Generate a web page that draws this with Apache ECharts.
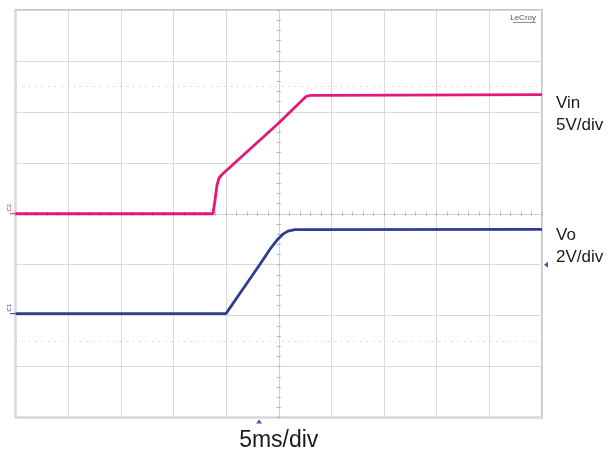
<!DOCTYPE html>
<html><head><meta charset="utf-8">
<script src="https://cdn.jsdelivr.net/npm/echarts@6/dist/echarts.min.js"></script>
<style>html,body{margin:0;padding:0;background:#fff}#c{width:610px;height:456px}</style>
</head><body><div id="c"></div>
<script>
// time in ms (5 ms/div, 10 divisions, centre = 0)
const vinTime  = [-25, -6.24, -6.05, -5.86, -5.67, -5.39, 0.0, 2.59, 2.97, 11.5, 25];
const vinVolts = [0, 0, 1.35, 2.82, 3.51, 3.85, 8.9, 11.51, 11.61, 11.65, 11.7];
const voTime   = [-25, -5.01, -3.68, -1.78, -0.83, -0.07, 0.40, 0.87, 1.54, 25];
const voVolts  = [0, 0, 0.80, 1.94, 2.53, 2.93, 3.12, 3.24, 3.30, 3.31];
const vinPerDiv = 5, vinOffsetDiv = 0;
const voPerDiv = 2, voOffsetDiv = -1.96;
const channelLabels = ['Vin', '5V/div', 'Vo', '2V/div'];
const timeLabel = '5ms/div';

const toDiv = (t, v, per, off) => t.map((x, i) => [x, v[i] / per + off]);
const vinData = toDiv(vinTime, vinVolts, vinPerDiv, vinOffsetDiv);
const voData = toDiv(voTime, voVolts, voPerDiv, voOffsetDiv);

const gridCol = '#dadada';
const centerAxis = (inside, which) => ({
  type: 'value', min: which === 'x' ? -25 : -4, max: which === 'x' ? 25 : 4,
  interval: which === 'x' ? 5 : 1,
  axisLine: { show: true, onZero: true, lineStyle: { color: '#d0d0d0', width: 1 } },
  axisTick: { show: true, inside: inside, length: 2, lineStyle: { color: '#b0b0b0' } },
  minorTick: { show: true, splitNumber: 5, length: 2, lineStyle: { color: '#b0b0b0' } },
  axisLabel: { show: false }, splitLine: { show: false }
});

const chart = echarts.init(document.getElementById('c'));
chart.setOption({
  animation: false,
  grid: { left: 15.5, right: 68, top: 10, bottom: 38.5, show: true, borderColor: '#c4c4c4', borderWidth: 2 },
  xAxis: [
    { type: 'value', min: -25, max: 25, interval: 5, axisLine: { show: false }, axisTick: { show: false },
      axisLabel: { show: false }, splitLine: { show: true, lineStyle: { color: gridCol, width: 1 } } },
    Object.assign(centerAxis(true, 'x'), { position: 'bottom' }),
    Object.assign(centerAxis(false, 'x'), { position: 'bottom' })
  ],
  yAxis: [
    { type: 'value', min: -4, max: 4, interval: 1, axisLine: { show: false }, axisTick: { show: false },
      axisLabel: { show: false }, splitLine: { show: true, lineStyle: { color: gridCol, width: 1 } } },
    Object.assign(centerAxis(true, 'y'), { position: 'left' }),
    Object.assign(centerAxis(false, 'y'), { position: 'left' })
  ],
  series: [
    { type: 'line', data: voData, showSymbol: false, symbol: 'none',
      lineStyle: { color: '#2e3d94', width: 2.8 }, z: 3,
      markLine: { silent: true, symbol: 'none', label: { show: false },
        lineStyle: { color: '#d0d0d0', type: [1.5, 5], width: 1.2 },
        data: [{ yAxis: 2.5 }, { yAxis: -2.5 }] } },
    { type: 'line', data: vinData, showSymbol: false, symbol: 'none',
      lineStyle: { color: '#e2187c', width: 2.8 }, z: 4 }
  ]
});

const p = (t, d) => chart.convertToPixel({ xAxisIndex: 0, yAxisIndex: 0 }, [t, d]);
const vin0 = p(-25, vinOffsetDiv), vo0 = p(-25, voOffsetDiv);
const right = p(25, 0)[0];
const vinEnd = p(25, vinData[vinData.length - 1][1]);
const voEnd = p(25, voData[voData.length - 1][1]);
const bottom = p(0, -4)[1];
const trig = p(-1.87, -4);
const lvl = p(25, -1);
const lf = '17px "Liberation Sans", Arial, sans-serif';
const txt = (x, y, s, opt) => ({ type: 'text', x, y, style: Object.assign({ text: s, fill: '#1a1a1a', font: lf, verticalAlign: 'middle' }, opt) });
chart.setOption({ graphic: [
  txt(right + 14, vinEnd[1] + 9, channelLabels[0]),
  txt(right + 14, vinEnd[1] + 31, channelLabels[1]),
  txt(right + 14, voEnd[1] + 6, channelLabels[2]),
  txt(right + 14, voEnd[1] + 28.5, channelLabels[3]),
  txt(p(0, 0)[0], bottom + 23, timeLabel, { align: 'center', font: '23px "Liberation Sans", Arial, sans-serif', fill: '#1a1a1a' }),
  txt(right - 6, 18, 'LeCroy', { align: 'right', font: '8px "Liberation Sans", Arial, sans-serif', fill: '#555' }),
  { type: 'line', shape: { x1: right - 29, y1: 22.5, x2: right - 6, y2: 22.5 }, style: { stroke: '#777', lineWidth: 0.8 } },
  { type: 'text', x: 9, y: vin0[1] - 6, rotation: Math.PI / 2, style: { text: 'C2', fill: '#e2187c', font: '6px sans-serif', align: 'center', verticalAlign: 'middle' } },
  { type: 'text', x: 9, y: vo0[1] - 6, rotation: Math.PI / 2, style: { text: 'C1', fill: '#2e3d94', font: '6px sans-serif', align: 'center', verticalAlign: 'middle' } },
  { type: 'line', shape: { x1: 10, y1: vin0[1], x2: 15, y2: vin0[1] }, style: { stroke: '#e2187c', lineWidth: 1 } },
  { type: 'line', shape: { x1: 10, y1: vo0[1], x2: 15, y2: vo0[1] }, style: { stroke: '#2e3d94', lineWidth: 1 } },
  { type: 'polygon', shape: { points: [[lvl[0] + 2, lvl[1]], [lvl[0] + 6, lvl[1] - 3], [lvl[0] + 6, lvl[1] + 3]] }, style: { fill: '#3b5bb0' } },
  { type: 'polygon', shape: { points: [[trig[0], bottom + 2], [trig[0] - 3, bottom + 6], [trig[0] + 3, bottom + 6]] }, style: { fill: '#3b5bb0' } }
]});
</script></body></html>
